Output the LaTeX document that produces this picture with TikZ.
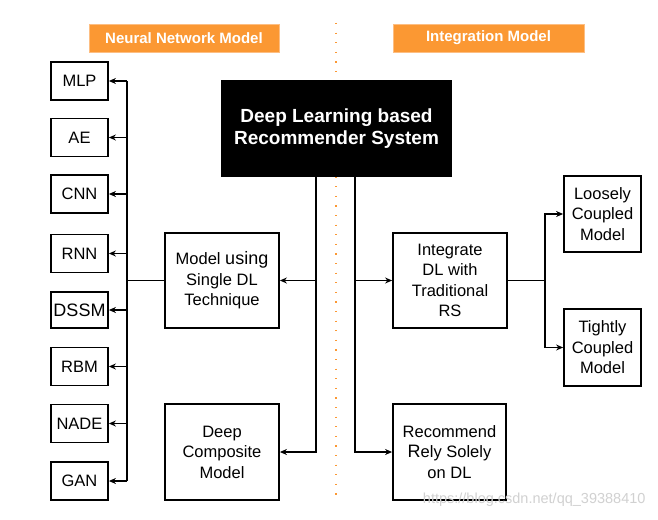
\documentclass[tikz,border=0pt]{standalone}
\usepackage{fontspec}
\setmainfont{Liberation Sans}
\usetikzlibrary{arrows.meta,calc}
\definecolor{orng}{RGB}{251,152,51}
\definecolor{orngb}{RGB}{253,190,130}
\tikzset{
  box/.style={draw=black,line width=1.8pt,fill=white,align=center,inner sep=1pt,
    font=\fontsize{16.5}{20.5}\selectfont},
  small/.style={box,minimum width=57pt,minimum height=38pt},
  mid/.style={box,minimum width=114pt,minimum height=95pt},
  side/.style={box,minimum width=77pt,minimum height=76pt},
  banner/.style={fill=orng,draw=orngb,line width=0.8pt,text=white,
    font=\fontsize{15}{17}\selectfont\bfseries,minimum width=190pt,minimum height=28pt,inner sep=0pt},
  conn/.style={line width=1.8pt,draw=black},
  arr/.style={conn,-{Stealth[length=7pt,width=6pt]}},
}
\begin{document}
\begin{tikzpicture}[x=1pt,y=-1pt]
\useasboundingbox (0,0) rectangle (658,519);
\fill[white] (0,0) rectangle (658,519);
% dotted separator
\draw[orng,line width=2pt,dash pattern=on 1.2pt off 8.4pt] (336,23) -- (336,502);
% banners
\node[banner] (bl) at (184,38) {Neural Network Model};
\node[banner,minimum width=191pt] (br) at (488.5,38) {Integration Model};
% title
\node[fill=black,minimum width=231pt,minimum height=97pt,text=white,align=center,
  font=\fontsize{19}{22.5}\selectfont\bfseries] (dl) at (336.5,128.5) {Deep Learning based\\Recommender System};
% left column
\node[small] (mlp) at (79.5,81) {MLP};
\node[small] (ae) at (79.5,137.5) {AE};
\node[small] (cnn) at (79.5,194) {CNN};
\node[small] (rnn) at (79.5,253.5) {RNN};
\node[small,minimum height=36pt,inner sep=0pt] (dssm) at (79.5,310) {\fontsize{18}{20}\selectfont DSSM};
\node[small] (rbm) at (79.5,366.5) {RBM};
\node[small] (nade) at (79.5,423.5) {NADE};
\node[small] (gan) at (79.5,481) {GAN};
% middle
\node[mid] (single) at (222,280.5) {Model {\fontsize{18}{20.5}\selectfont using}\\Single DL\\Technique};
\node[mid,minimum height=96pt] (comp) at (222,452) {Deep\\Composite\\Model};
\node[mid] (integ) at (450,280.5) {Integrate\\DL with\\Traditional\\RS};
\node[mid,minimum width=113pt,minimum height=96pt] (rec) at (449.5,452) {Recommend\\{\fontsize{18}{20.5}\selectfont R}ely Solely\\on DL};
% right
\node[side] (loose) at (602.5,214) {Loosely\\Coupled\\Model};
\node[side,minimum height=77pt] (tight) at (602.5,347.5) {Tightly\\Coupled\\Model};
% coordinates
\coordinate (lt) at (316,177);
\coordinate (rt) at (355,177);
\coordinate (bus) at (127,0);
\coordinate (fork) at (545,0);
% connectors from title
\draw[arr] (lt) |- (comp.east);
\draw[arr] (lt |- single.east) -- (single.east);
\draw[arr] (rt) |- (rec.west);
\draw[arr] (rt |- integ.west) -- (integ.west);
% left bus
\draw[conn] (single.west) -- (bus |- single.west);
\draw[conn] (bus |- mlp.east) -- (bus |- gan.east);
\foreach \n in {mlp,ae,cnn,rnn,dssm,rbm,nade,gan}
  \draw[arr] (bus |- \n.east) -- (\n.east);
% right fork
\draw[conn] (integ.east) -- (fork |- integ.east);
\draw[arr] (fork |- integ.east) |- (loose.west);
\draw[arr] (fork |- integ.east) |- (tight.west);
% watermark
\node[text=black!18,font=\fontsize{14.5}{16}\selectfont,anchor=east] (wm) at (649,500) {https://blog.csdn.net/qq\_39388410};
\end{tikzpicture}
\end{document}
